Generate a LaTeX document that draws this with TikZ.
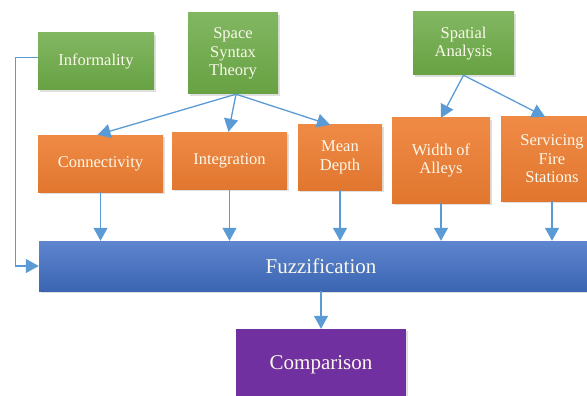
\documentclass[tikz,border=0pt]{standalone}
\usepackage{fontspec}
\setmainfont{Liberation Serif}
\definecolor{leafgreen}{RGB}{108, 170, 70}
\definecolor{factororange}{RGB}{237, 125, 49}
\definecolor{fuzzblue}{RGB}{66, 112, 198}
\definecolor{compviolet}{RGB}{112, 48, 160}
\definecolor{linkblue}{RGB}{91, 155, 213}
\definecolor{labelwhite}{RGB}{250, 248, 235}
\usetikzlibrary{shapes, arrows.meta, positioning, calc, shadows}

\begin{document}
\begin{tikzpicture}[x=1pt, y=-1pt,
  block/.style={rectangle, inner sep=2pt, align=center, text=labelwhite,
    font=\fontsize{16.5}{18.5}\selectfont,
    drop shadow={shadow xshift=2pt, shadow yshift=-2pt, opacity=0.25}},
  source/.style={block, top color=leafgreen!85!white, bottom color=leafgreen!95!black},
  factor/.style={block, top color=factororange!90!white, bottom color=factororange!95!black},
  link/.style={-{Triangle[length=13pt, width=14pt]}, draw=linkblue, line width=1.3pt}
]
  \useasboundingbox (0,0) rectangle (587,396);
  \clip (0,0) rectangle (587,396);

  % inputs
  \node[source, minimum width=116pt, minimum height=57pt] (info) at (96, 61.5) {Informality};
  \node[source, minimum width=90pt, minimum height=81pt] (sst) at (233, 53.5) {Space\\Syntax\\Theory};
  \node[source, minimum width=101pt, minimum height=63pt] (spa) at (463.5, 43.5) {Spatial\\Analysis};

  % indicators
  \node[factor, minimum width=125pt, minimum height=57pt] (conn) at (100.5, 163.5) {Connectivity};
  \node[factor, minimum width=115pt, minimum height=57pt] (integ) at (229.5, 160.5) {Integration};
  \node[factor, minimum width=84pt, minimum height=65pt] (mdepth) at (340, 157.5) {Mean\\Depth};
  \node[factor, minimum width=98pt, minimum height=85pt] (walley) at (441, 160.5) {Width of\\Alleys};
  \node[factor, minimum width=102pt, minimum height=84pt] (fire) at (552, 159) {Servicing\\Fire\\Stations};

  % fuzzy stage
  \node[block, top color=fuzzblue!85!white, bottom color=fuzzblue!90!black,
    minimum width=564pt, minimum height=50pt, font=\fontsize{21}{24}\selectfont] (fuzz) at (321, 266) {Fuzzification};
  \node[block, fill=compviolet, minimum width=170pt, minimum height=72pt,
    font=\fontsize{21}{24}\selectfont] (comp) at (321, 365) {Comparison};

  \draw[link] ([xshift=3pt]sst.south) -- ([xshift=-3pt]conn.north);
  \draw[link] ([xshift=3pt]sst.south) -- ([xshift=-1pt]integ.north);
  \draw[link] ([xshift=3pt]sst.south) -- ([xshift=-10pt]mdepth.north);
  \draw[link] (spa.south) -- (walley.north);
  \draw[link] (spa.south) -- ([xshift=-7pt]fire.north);

  \foreach \n in {conn, integ, mdepth, walley, fire}
    \draw[link] (\n.south) -- (\n.south |- fuzz.north);

  \draw[link] ([yshift=4pt]info.west) -- ++(-22,0) |- (fuzz.west);
  \draw[link] (fuzz.south -| comp.north) -- (comp.north);
\end{tikzpicture}
\end{document}
